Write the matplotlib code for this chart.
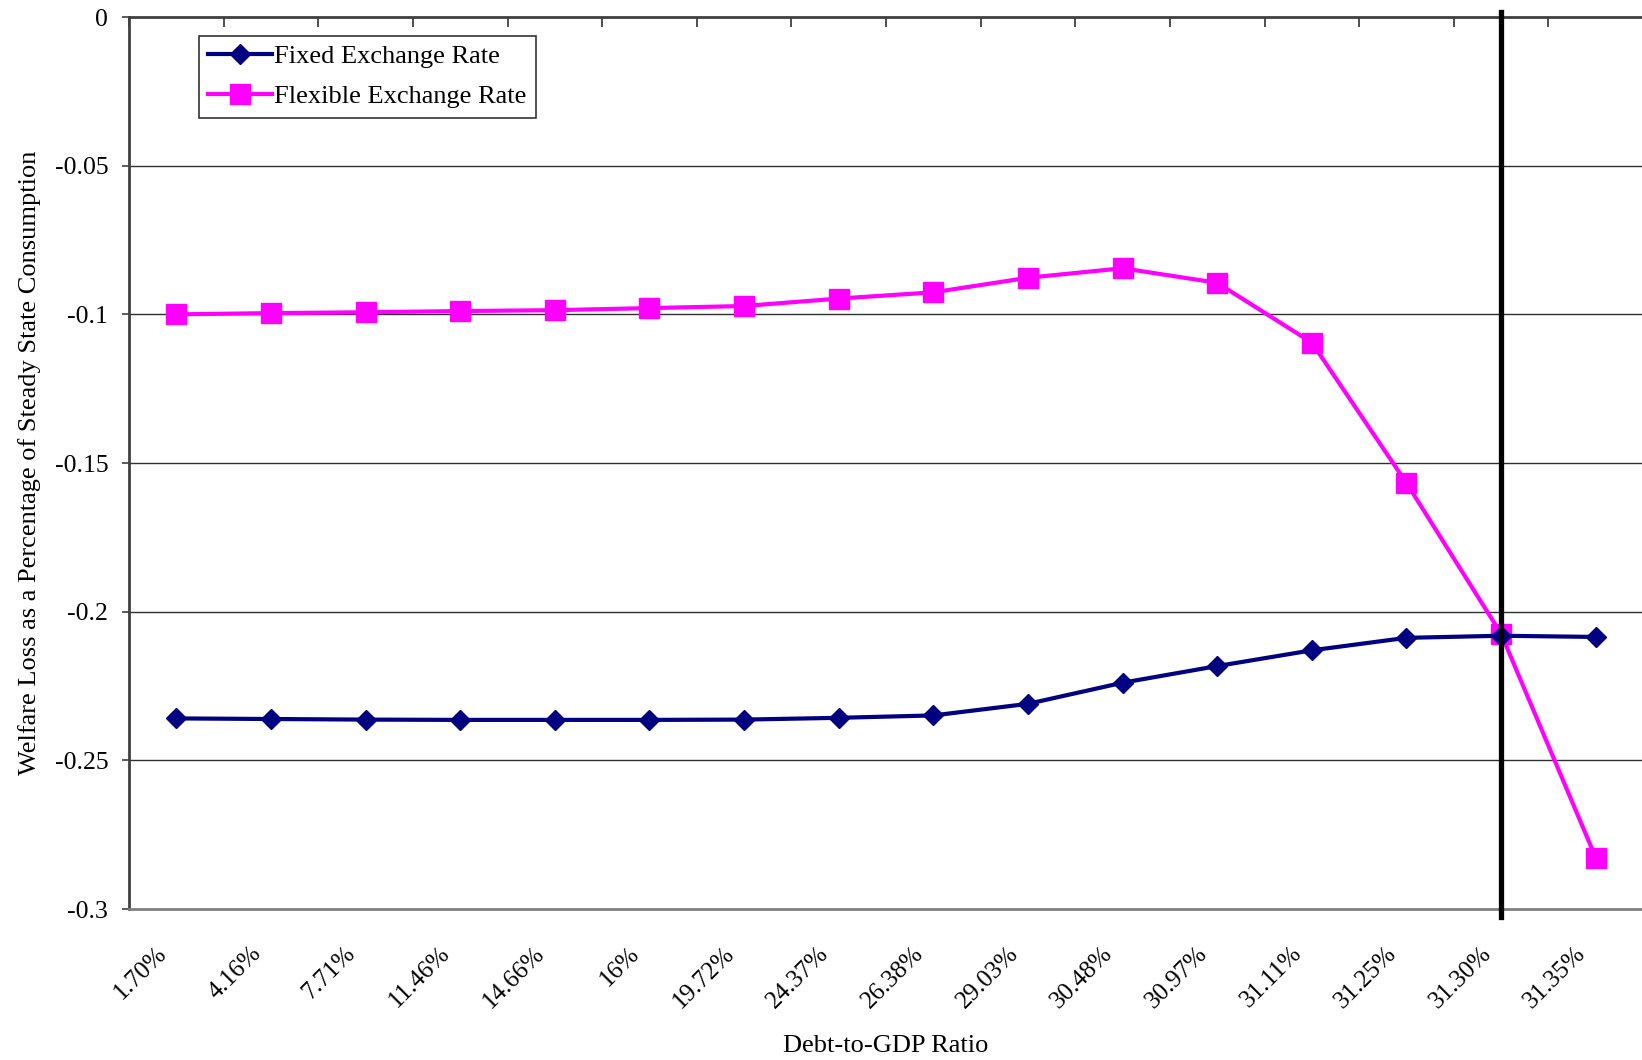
import matplotlib
matplotlib.use('Agg')
import matplotlib.pyplot as plt
from matplotlib.transforms import ScaledTranslation
import numpy as np

plt.rcParams['font.family'] = ['Liberation Serif', 'DejaVu Serif']

# 数据
debt_labels = ['1.70%', '4.16%', '7.71%', '11.46%', '14.66%', '16%', '19.72%',
               '24.37%', '26.38%', '29.03%', '30.48%', '30.97%', '31.11%',
               '31.25%', '31.30%', '31.35%']
fixed_rate = [-0.2359, -0.2361, -0.2363, -0.2364, -0.2364, -0.2364, -0.2363,
              -0.2357, -0.2349, -0.2310, -0.2239, -0.2183, -0.2130, -0.2088,
              -0.2081, -0.2085]
flexible_rate = [-0.1000, -0.0996, -0.0993, -0.0989, -0.0986, -0.0979, -0.0972,
                 -0.0947, -0.0926, -0.0877, -0.0845, -0.0894, -0.1095, -0.1567,
                 -0.2074, -0.2827]
threshold_label = '31.30%'
y_ticks = [0, -0.05, -0.1, -0.15, -0.2, -0.25, -0.3]


def main():
    fig = plt.figure(figsize=(16.42, 10.60), dpi=100)
    ax = fig.add_axes([129 / 1642, 1 - 909 / 1060, 1514 / 1642, 892 / 1060])

    x = np.arange(len(debt_labels))
    ax.plot(x, fixed_rate, color='#000080', linewidth=3, marker='D',
            markersize=10.2, label='Fixed Exchange Rate', zorder=4)
    ax.plot(x, flexible_rate, color='#FF00FF', linewidth=3, marker='s',
            markersize=15, label='Flexible Exchange Rate', zorder=3)

    # 阈值竖线
    ax.axvline(debt_labels.index(threshold_label), ymin=-0.009, ymax=1.0056,
               color='black', linewidth=3.8, clip_on=False, zorder=5)

    ax.set_xlim(-0.5, len(debt_labels) - 0.5)
    ax.set_ylim(-0.3, 0)

    # y 轴
    ax.set_yticks(y_ticks)
    ax.set_yticklabels([f'{v:g}' for v in y_ticks])
    ax.tick_params(axis='y', direction='out', length=5, width=1.2,
                   color='#404040', labelsize=18.5, pad=10)
    for v in y_ticks[1:-1]:
        ax.axhline(v, color='#303030', linewidth=1, zorder=1)

    # x 轴: 标签在底部, 刻度在顶部(分类边界)
    ax.set_xticks(x)
    ax.set_xticklabels(debt_labels, rotation=45, ha='right')
    ax.tick_params(axis='x', which='major', length=0, labelsize=18, pad=24)
    ax.set_xticks(np.arange(len(debt_labels) + 1) - 0.5, minor=True)
    ax.tick_params(axis='x', which='minor', bottom=False, top=True,
                   direction='in', length=7, width=1.2, color='#303030')
    offset = ScaledTranslation(-4 / 72, 0, fig.dpi_scale_trans)
    for lab in ax.get_xticklabels():
        lab.set_transform(lab.get_transform() + offset)

    ax.spines['right'].set_visible(False)
    ax.spines['top'].set_color('#404040')
    ax.spines['top'].set_linewidth(2)
    ax.spines['left'].set_color('#404040')
    ax.spines['left'].set_linewidth(2)
    ax.spines['bottom'].set_color('#808080')
    ax.spines['bottom'].set_linewidth(2)

    ax.set_xlabel('Debt-to-GDP Ratio', fontsize=19, labelpad=16)
    ax.set_ylabel('Welfare Loss as a Percentage of Steady State Consumption',
                  fontsize=19, labelpad=10)

    leg = ax.legend(loc='upper left', bbox_to_anchor=(0.0462, 0.979),
                    borderaxespad=0, fontsize=19, frameon=True, fancybox=False,
                    handlelength=2.4, handletextpad=0.1, labelspacing=0.62,
                    borderpad=0.35)
    leg.get_frame().set_edgecolor('black')
    leg.get_frame().set_linewidth(1.2)

    fig.savefig('out.png', dpi=100, facecolor='white')
    plt.close(fig)


if __name__ == '__main__':
    main()
